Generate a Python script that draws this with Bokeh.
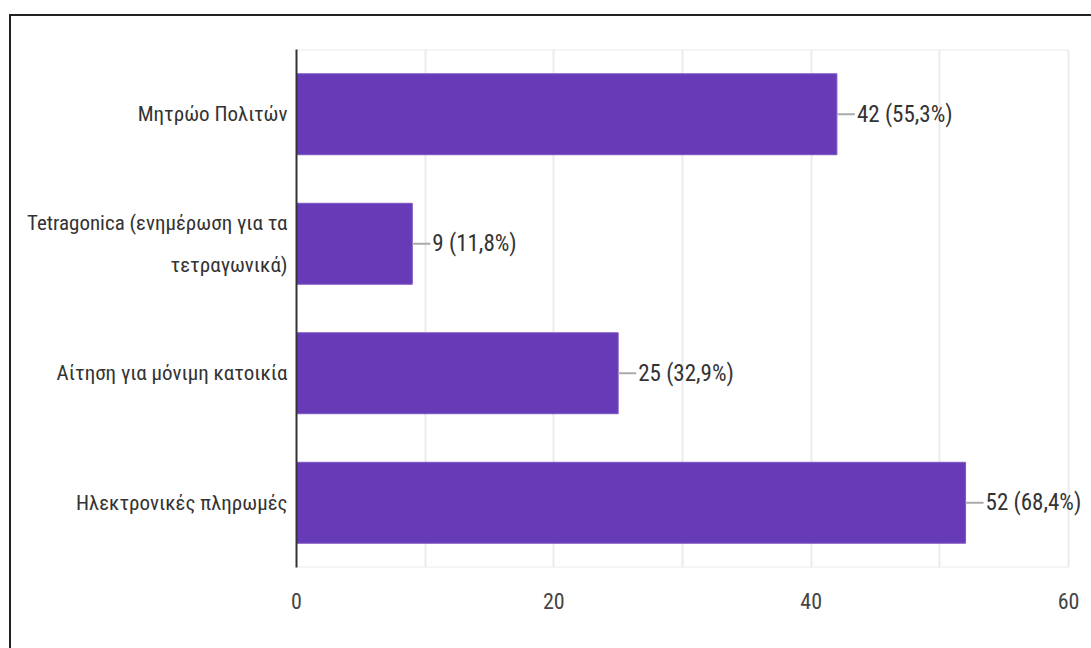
from bokeh.plotting import figure
from bokeh.models import FactorRange, Range1d, FixedTicker, ColumnDataSource, LabelSet
from bokeh.core.properties import value
from bokeh.embed import file_html
from bokeh.resources import INLINE

categories = [
    "Μητρώο Πολιτών",
    "Tetragonica (ενημέρωση για τα\nτετραγωνικά)",
    "Αίτηση για μόνιμη κατοικία",
    "Ηλεκτρονικές πληρωμές",
]
counts = [42, 9, 25, 52]
percents = ["55,3%", "11,8%", "32,9%", "68,4%"]
x_ticks = [0, 20, 40, 60]
x_minor = [10, 30, 50]
x_max = 60

labels = [f"{c} ({p})" for c, p in zip(counts, percents)]
FONT = "Roboto Condensed"

src = ColumnDataSource(dict(cat=categories, cnt=counts, lab=labels))

# frame is extended to the canvas edge so value labels are not clipped;
# the visible plot area still ends at x_max (1068 px)
p = figure(
    y_range=FactorRange(factors=list(reversed(categories))),
    x_range=Range1d(0, x_max * 795 / 772),
    frame_width=795, frame_height=518,
    min_border_left=285, min_border_right=0,
    min_border_top=33, min_border_bottom=81,
    output_backend="svg", toolbar_location=None,
)
p.styles = {"outline": "2px solid #222222", "margin-left": "11px", "margin-top": "16px"}
p.outline_line_color = None

p.xaxis.ticker = FixedTicker(ticks=x_ticks, minor_ticks=x_minor)
p.xgrid.grid_line_color = "#ebebeb"
p.xgrid.grid_line_width = 2
p.xgrid.minor_grid_line_color = "#ebebeb"
p.xgrid.minor_grid_line_width = 2
p.ygrid.grid_line_color = None

# top and bottom edges of the plot area
p.segment(x0=[0, 0], x1=[x_max, x_max],
          y0=[(categories[0], 0.5), (categories[-1], -0.5)],
          y1=[(categories[0], 0.5), (categories[-1], -0.5)],
          line_color="#ebebeb", line_width=2)

p.hbar(y="cat", right="cnt", left=0, height=0.625, source=src,
       fill_color="#673ab7", line_color="#7e57c2", line_width=1)
p.ray(x="cnt", y="cat", length=18, length_units="screen", angle=0,
      source=src, line_color="#aaaaaa", line_width=2)
p.add_layout(LabelSet(x="cnt", y="cat", text="lab", source=src, x_offset=20,
                      text_align="left", text_baseline="middle",
                      text_font=value(FONT), text_font_size="23px",
                      text_color="#333333"))

p.xaxis.axis_line_color = None
p.xaxis.major_tick_line_color = None
p.xaxis.minor_tick_line_color = None
p.xaxis.major_label_standoff = 19
p.xaxis.major_label_text_font = FONT
p.xaxis.major_label_text_font_size = "22px"
p.xaxis.major_label_text_color = "#444444"

p.yaxis.axis_line_color = "#333333"
p.yaxis.axis_line_width = 2
p.yaxis.major_tick_line_color = None
p.yaxis.minor_tick_line_color = None
p.yaxis.major_label_standoff = 3
p.yaxis.major_label_text_font = FONT
p.yaxis.major_label_text_font_size = "21px"
p.yaxis.major_label_text_line_height = 1.77
p.yaxis.major_label_text_color = "#333333"

open("out.html", "w").write(file_html(p, INLINE))
